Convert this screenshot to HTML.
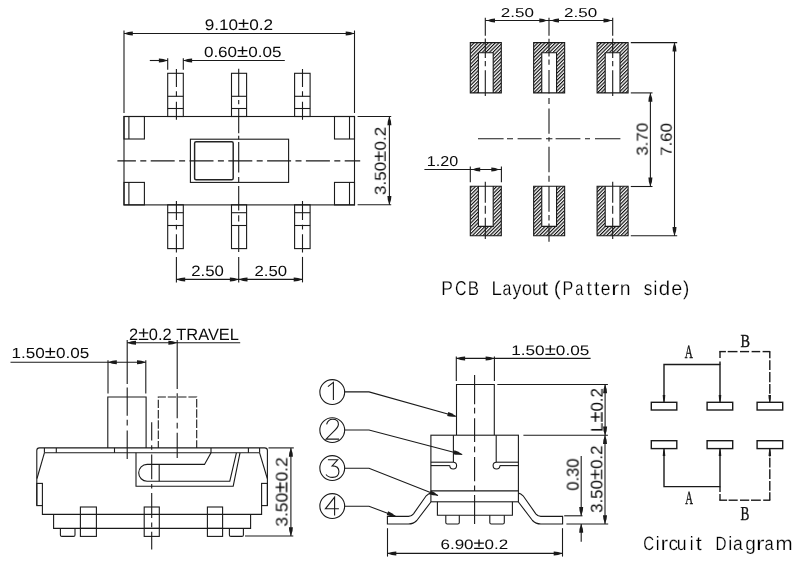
<!DOCTYPE html>
<html><head><meta charset="utf-8"><style>
html,body{margin:0;padding:0;background:#fff;}
svg{display:block;}
svg text{will-change:transform;text-rendering:geometricPrecision;}
svg line, svg path, svg rect, svg circle{fill:none;stroke:#1a1a1a;stroke-width:1.1;}
svg path.f{fill:#1a1a1a;stroke:none;}
svg path.h{fill:url(#hatch);}
svg .b{stroke-width:1.4;}
svg text{font-family:"Liberation Sans",sans-serif;fill:#0a0a0a;stroke:none;}
svg text.tl{stroke:#fff;stroke-width:0.2px;fill:#000;}
svg text.sf{font-family:"Liberation Serif",serif;fill:#111;stroke:#111;stroke-width:0.35px;}
</style></head><body>
<svg width="800" height="572" viewBox="0 0 800 572">
<defs><pattern id="hatch" patternUnits="userSpaceOnUse" width="2.5" height="2.5" patternTransform="rotate(45)"><rect width="2.5" height="2.5" style="fill:#fff;stroke:none"/><line x1="0.6" y1="-1" x2="0.6" y2="3.5" style="stroke:#000;stroke-width:1.1"/></pattern></defs>
<rect x="124" y="116.5" width="230.5" height="88.4" />
<rect x="124" y="116.5" width="20.4" height="22.5" />
<line x1="128.9" y1="116.5" x2="128.9" y2="139" />
<rect x="124" y="182.4" width="20.4" height="22.5" />
<line x1="128.9" y1="182.4" x2="128.9" y2="204.9" />
<rect x="334.5" y="116.5" width="20.0" height="22.5" />
<line x1="349.5" y1="116.5" x2="349.5" y2="139" />
<rect x="334.5" y="182.4" width="20.0" height="22.5" />
<line x1="349.5" y1="182.4" x2="349.5" y2="204.9" />
<rect x="190.4" y="139.2" width="98.2" height="43.2" />
<rect x="194.6" y="141.8" width="38.6" height="38" rx="1.5" style="stroke-width:1.45;stroke:#222"/>
<line x1="117.4" y1="160.9" x2="360.2" y2="160.9" stroke-dasharray="24 4.4 6 4.4" stroke-dashoffset="5.5"/>
<rect x="167.7" y="73.3" width="15.6" height="43.2" />
<line x1="167.7" y1="96.3" x2="183.3" y2="96.3" />
<line x1="167.7" y1="108.5" x2="183.3" y2="108.5" />
<rect x="167.7" y="204.8" width="15.6" height="43.8" />
<line x1="167.7" y1="212.7" x2="183.3" y2="212.7" />
<line x1="167.7" y1="225.5" x2="183.3" y2="225.5" />
<rect x="231.5" y="73.3" width="15.1" height="43.2" />
<line x1="231.5" y1="96.3" x2="246.6" y2="96.3" />
<line x1="231.5" y1="108.5" x2="246.6" y2="108.5" />
<rect x="231.5" y="204.8" width="15.1" height="43.8" />
<line x1="231.5" y1="212.7" x2="246.6" y2="212.7" />
<line x1="231.5" y1="225.5" x2="246.6" y2="225.5" />
<rect x="294.6" y="73.3" width="15.5" height="43.2" />
<line x1="294.6" y1="96.3" x2="310.1" y2="96.3" />
<line x1="294.6" y1="108.5" x2="310.1" y2="108.5" />
<rect x="294.6" y="204.8" width="15.5" height="43.8" />
<line x1="294.6" y1="212.7" x2="310.1" y2="212.7" />
<line x1="294.6" y1="225.5" x2="310.1" y2="225.5" />
<line x1="176.4" y1="68.9" x2="176.4" y2="119.7" stroke-dasharray="18 4.4 5.3 5.2 30" stroke-dashoffset="0"/>
<line x1="176.4" y1="201.1" x2="176.4" y2="252.6" stroke-dasharray="18.9 4.8 4.7 4.7 30" stroke-dashoffset="0"/>
<line x1="302.5" y1="68.9" x2="302.5" y2="119.7" stroke-dasharray="18 4.4 5.3 5.2 30" stroke-dashoffset="0"/>
<line x1="302.5" y1="201.1" x2="302.5" y2="252.6" stroke-dasharray="18.9 4.8 4.7 4.7 30" stroke-dashoffset="0"/>
<line x1="238.7" y1="68.8" x2="238.7" y2="252.3" stroke-dasharray="27.7 3.5 4.3 4.4 24.5 2.6 3.5 2.6 30.6 4.4 5.2 4 24.5 4.7 6.1 3.5 27.1 10" stroke-dashoffset="0"/>
<line x1="124" y1="30.5" x2="124" y2="113" />
<line x1="354.5" y1="30.5" x2="354.5" y2="113" />
<line x1="124" y1="33.5" x2="354.5" y2="33.5" />
<path class="f" d="M124.00,33.50 Q128.84,31.40 132.80,31.50 L132.80,35.50 Q128.84,35.60 124.00,33.50Z"/>
<path class="f" d="M354.50,33.50 Q349.66,35.60 345.70,35.50 L345.70,31.50 Q349.66,31.40 354.50,33.50Z"/>
<text class="t" x="204.70" y="29.70" font-size="15.30" textLength="68.42" lengthAdjust="spacingAndGlyphs">9.10<tspan font-size="118%">±</tspan>0.2</text>
<line x1="167.7" y1="58.3" x2="167.7" y2="69.7" />
<line x1="183.3" y1="58.3" x2="183.3" y2="69.7" />
<line x1="149.8" y1="60.5" x2="167.7" y2="60.5" />
<line x1="183.3" y1="60.5" x2="284.8" y2="60.5" />
<path class="f" d="M167.70,60.50 Q162.86,62.60 158.90,62.50 L158.90,58.50 Q162.86,58.40 167.70,60.50Z"/>
<path class="f" d="M183.30,60.50 Q188.14,58.40 192.10,58.50 L192.10,62.50 Q188.14,62.60 183.30,60.50Z"/>
<text class="t" x="203.90" y="57.20" font-size="14.80" textLength="77.52" lengthAdjust="spacingAndGlyphs">0.60<tspan font-size="118%">±</tspan>0.05</text>
<line x1="357.6" y1="116.5" x2="391.2" y2="116.5" />
<line x1="357.6" y1="204.8" x2="391.2" y2="204.8" />
<line x1="389.4" y1="116.5" x2="389.4" y2="204.8" />
<path class="f" d="M389.40,116.50 Q391.50,121.34 391.40,125.30 L387.40,125.30 Q387.30,121.34 389.40,116.50Z"/>
<path class="f" d="M389.40,204.80 Q387.30,199.96 387.40,196.00 L391.40,196.00 Q391.50,199.96 389.40,204.80Z"/>
<text class="t" x="0" y="0" font-size="15.78" textLength="68.21" lengthAdjust="spacingAndGlyphs" transform="translate(385.70,195.09) rotate(-90)">3.50<tspan font-size="118%">±</tspan>0.2</text>
<line x1="176.4" y1="256.9" x2="176.4" y2="282.4" />
<line x1="238.7" y1="256.9" x2="238.7" y2="282.4" />
<line x1="302.5" y1="256.9" x2="302.5" y2="282.4" />
<line x1="176.4" y1="279.4" x2="302.5" y2="279.4" />
<path class="f" d="M176.40,279.40 Q181.24,277.30 185.20,277.40 L185.20,281.40 Q181.24,281.50 176.40,279.40Z"/>
<path class="f" d="M238.70,279.40 Q233.86,281.50 229.90,281.40 L229.90,277.40 Q233.86,277.30 238.70,279.40Z"/>
<path class="f" d="M238.70,279.40 Q243.54,277.30 247.50,277.40 L247.50,281.40 Q243.54,281.50 238.70,279.40Z"/>
<path class="f" d="M302.50,279.40 Q297.66,281.50 293.70,281.40 L293.70,277.40 Q297.66,277.30 302.50,279.40Z"/>
<text class="t" x="191.15" y="275.90" font-size="14.97" textLength="32.73" lengthAdjust="spacingAndGlyphs">2.50</text>
<text class="t" x="254.45" y="275.90" font-size="14.72" textLength="32.59" lengthAdjust="spacingAndGlyphs">2.50</text>
<path class="h" d="M470.3,42.6 H501.3 V92.9 H470.3 Z M478.40000000000003,52.7 H493.2 V92.9 H478.40000000000003 Z" fill-rule="evenodd"/>
<path class="h" d="M470.3,186.2 H501.3 V235.8 H470.3 Z M478.40000000000003,186.2 H493.2 V226.4 H478.40000000000003 Z" fill-rule="evenodd"/>
<path class="h" d="M533.65,42.6 H564.65 V92.9 H533.65 Z M541.75,52.7 H556.55 V92.9 H541.75 Z" fill-rule="evenodd"/>
<path class="h" d="M533.65,186.2 H564.65 V235.8 H533.65 Z M541.75,186.2 H556.55 V226.4 H541.75 Z" fill-rule="evenodd"/>
<path class="h" d="M597.1,42.6 H628.1 V92.9 H597.1 Z M605.2,52.7 H620.0 V92.9 H605.2 Z" fill-rule="evenodd"/>
<path class="h" d="M597.1,186.2 H628.1 V235.8 H597.1 Z M605.2,186.2 H620.0 V226.4 H605.2 Z" fill-rule="evenodd"/>
<line x1="485.3" y1="38.5" x2="485.3" y2="96" stroke-dasharray="19.5 3 5.3 4 40" stroke-dashoffset="0"/>
<line x1="485.3" y1="181.8" x2="485.3" y2="239" stroke-dasharray="21 2.9 8.1 3.9 30" stroke-dashoffset="0"/>
<line x1="612.7" y1="38.5" x2="612.7" y2="96" stroke-dasharray="19.5 3 5.3 4 40" stroke-dashoffset="0"/>
<line x1="612.7" y1="181.8" x2="612.7" y2="239" stroke-dasharray="21 2.9 8.1 3.9 30" stroke-dashoffset="0"/>
<line x1="485.3" y1="17.7" x2="485.3" y2="35.8" />
<line x1="612.7" y1="17.7" x2="612.7" y2="35.8" />
<line x1="549" y1="17.7" x2="549" y2="35.8" />
<line x1="549" y1="38.8" x2="549" y2="241.8" stroke-dasharray="17.8 3 5.2 5.2 23.5 4.4 6.1 4.4 25.3 3.5 4.4 5.2 25.4 3.5 6.1 4.3 25.7 3.1 5.5 3.1 18.3 10" stroke-dashoffset="0"/>
<line x1="478" y1="138.8" x2="620.4" y2="138.8" stroke-dasharray="25.6 3.4 6 4.6 24 4.4 6.4 3.2 24.8 4.6 5 5 25.4 10" stroke-dashoffset="0"/>
<line x1="485.3" y1="20.5" x2="612.7" y2="20.5" />
<path class="f" d="M487.00,20.50 Q491.40,18.40 495.00,18.50 L495.00,22.50 Q491.40,22.60 487.00,20.50Z"/>
<path class="f" d="M547.30,20.50 Q542.90,22.60 539.30,22.50 L539.30,18.50 Q542.90,18.40 547.30,20.50Z"/>
<path class="f" d="M551.00,20.50 Q555.40,18.40 559.00,18.50 L559.00,22.50 Q555.40,22.60 551.00,20.50Z"/>
<path class="f" d="M611.50,20.50 Q607.10,22.60 603.50,22.50 L603.50,18.50 Q607.10,18.40 611.50,20.50Z"/>
<text class="t" x="500.72" y="17.00" font-size="12.86" textLength="33.14" lengthAdjust="spacingAndGlyphs">2.50</text>
<text class="t" x="564.13" y="17.00" font-size="12.86" textLength="33.13" lengthAdjust="spacingAndGlyphs">2.50</text>
<line x1="630.8" y1="42.6" x2="677.2" y2="42.6" />
<line x1="630.8" y1="92.9" x2="652.5" y2="92.9" />
<line x1="630.8" y1="186.5" x2="652.5" y2="186.5" />
<line x1="630.8" y1="235.8" x2="677.2" y2="235.8" />
<line x1="674.5" y1="42.6" x2="674.5" y2="235.8" />
<path class="f" d="M674.50,42.60 Q676.60,47.44 676.50,51.40 L672.50,51.40 Q672.40,47.44 674.50,42.60Z"/>
<path class="f" d="M674.50,235.80 Q672.40,230.96 672.50,227.00 L676.50,227.00 Q676.60,230.96 674.50,235.80Z"/>
<line x1="650.4" y1="92.9" x2="650.4" y2="186.5" />
<path class="f" d="M650.40,92.90 Q652.50,97.74 652.40,101.70 L648.40,101.70 Q648.30,97.74 650.40,92.90Z"/>
<path class="f" d="M650.40,186.30 Q648.30,181.46 648.40,177.50 L652.40,177.50 Q652.50,181.46 650.40,186.30Z"/>
<text class="t" x="0" y="0" font-size="15.70" textLength="32.82" lengthAdjust="spacingAndGlyphs" transform="translate(647.60,155.61) rotate(-90)">3.70</text>
<text class="t" x="0" y="0" font-size="15.72" textLength="32.92" lengthAdjust="spacingAndGlyphs" transform="translate(671.60,155.88) rotate(-90)">7.60</text>
<line x1="470.3" y1="166.5" x2="470.3" y2="182.2" />
<line x1="501.4" y1="166.5" x2="501.4" y2="182.2" />
<line x1="424.4" y1="169.5" x2="501.4" y2="169.5" />
<path class="f" d="M472.20,169.50 Q476.60,167.40 480.20,167.50 L480.20,171.50 Q476.60,171.60 472.20,169.50Z"/>
<path class="f" d="M499.30,169.50 Q494.90,171.60 491.30,171.50 L491.30,167.50 Q494.90,167.40 499.30,169.50Z"/>
<text class="t" x="426.89" y="165.70" font-size="14.30" textLength="31.42" lengthAdjust="spacingAndGlyphs">1.20</text>
<text class="t tl" font-size="20.06" transform="translate(441.37,295.40) scale(0.871,1)">P</text>
<text class="t tl" font-size="20.06" transform="translate(454.99,295.40) scale(0.795,1)">C</text>
<text class="t tl" font-size="20.06" transform="translate(467.71,295.40) scale(0.843,1)">B</text>
<text class="t tl" font-size="20.06" transform="translate(491.57,295.40) scale(0.927,1)">L</text>
<text class="t tl" font-size="20.06" transform="translate(502.42,295.40) scale(0.796,1)">a</text>
<text class="t tl" font-size="20.06" transform="translate(512.46,295.40) scale(0.885,1)">y</text>
<text class="t tl" font-size="20.06" transform="translate(521.72,295.40) scale(0.929,1)">o</text>
<text class="t tl" font-size="20.06" transform="translate(531.95,295.40) scale(0.880,1)">u</text>
<text class="t tl" font-size="20.06" transform="translate(541.53,295.40) scale(1.210,1)">t</text>
<text class="t tl" font-size="20.06" transform="translate(553.71,295.40) scale(1.034,1)">(</text>
<text class="t tl" font-size="20.06" transform="translate(562.57,295.40) scale(0.806,1)">P</text>
<text class="t tl" font-size="20.06" transform="translate(575.28,295.40) scale(0.728,1)">a</text>
<text class="t tl" font-size="20.06" transform="translate(586.46,295.40) scale(0.947,1)">t</text>
<text class="t tl" font-size="20.06" transform="translate(593.96,295.40) scale(0.947,1)">t</text>
<text class="t tl" font-size="20.06" transform="translate(600.86,295.40) scale(0.866,1)">e</text>
<text class="t tl" font-size="20.06" transform="translate(611.16,295.40) scale(1.197,1)">r</text>
<text class="t tl" font-size="20.06" transform="translate(619.71,295.40) scale(0.968,1)">n</text>
<text class="t tl" font-size="20.06" transform="translate(643.77,295.40) scale(0.858,1)">s</text>
<text class="t tl" font-size="20.06" transform="translate(653.61,295.40) scale(0.851,1)">i</text>
<text class="t tl" font-size="20.06" transform="translate(658.74,295.40) scale(1.020,1)">d</text>
<text class="t tl" font-size="20.06" transform="translate(671.36,295.40) scale(0.988,1)">e</text>
<text class="t tl" font-size="20.06" transform="translate(683.09,295.40) scale(0.940,1)">)</text>
<path d="M36.8,505.6 V450.6 Q36.8,447.9 39.5,447.9 H264.6 Q267.4,447.9 267.4,450.6 V505.6" />
<line x1="44.4" y1="452.8" x2="259.6" y2="452.8" />
<line x1="44.4" y1="447.9" x2="44.4" y2="452.8" />
<line x1="56.3" y1="447.9" x2="56.3" y2="452.8" />
<line x1="114.5" y1="447.9" x2="114.5" y2="452.8" />
<line x1="248.4" y1="447.9" x2="248.4" y2="452.8" />
<line x1="259.6" y1="447.9" x2="259.6" y2="452.8" />
<line x1="44.4" y1="452.8" x2="37" y2="478.5" />
<line x1="259.6" y1="452.8" x2="267.3" y2="478.5" />
<rect x="36.8" y="483.4" width="5.6" height="22.2" />
<rect x="261.6" y="483.4" width="5.8" height="22.2" />
<path d="M42.4,505.6 V514.4 H261.6 V505.6" />
<path d="M53.6,514.4 V528.4 H250.6 V514.4" />
<rect x="80.4" y="507" width="16.0" height="29.4" fill="#fff"/>
<line x1="80.4" y1="528.4" x2="96.4" y2="528.4" />
<rect x="144.2" y="507" width="15.1" height="29.4" fill="#fff"/>
<line x1="144.2" y1="528.4" x2="159.3" y2="528.4" />
<rect x="207.4" y="507" width="15.2" height="29.4" fill="#fff"/>
<line x1="207.4" y1="528.4" x2="222.6" y2="528.4" />
<path d="M60.4,528.4 V534.9 Q60.4,536.4 61.9,536.4 H73.5 Q75,536.4 75,534.9 V528.4" />
<path d="M229.4,528.4 V534.9 Q229.4,536.4 230.9,536.4 H241.9 Q243.4,536.4 243.4,534.9 V528.4" />
<path d="M136,452.8 V486.2 H233.2 L240,452.8" />
<path d="M211,447.9 V452.8 L204.5,464.4 H147.1 A8.4,8.4 0 0 0 147.1,481.2 H229.8 L236.4,452.8" />
<line x1="159.2" y1="464.4" x2="159.2" y2="481.2" />
<path d="M107.8,447.9 V397 H146.1 V447.9" />
<path d="M158.3,447.9 V397 H196.7 V447.9" stroke-dasharray="7 1.9 8.4 1.9 8.4 1.9 8.4 1.9 8.4 1.9 8.4 1.9 8.4 1.9 8.4 1.9 8.4 1.9 8.4 1.9 8.4 1.9 8.4 1.9 8.4 1.9 8.4 1.9 8.4 1.9"/>
<line x1="127.2" y1="340" x2="127.2" y2="458.9" stroke-dasharray="44.1 3.3 28.3 4.1 5.8 5 28.3 10" stroke-dashoffset="0"/>
<line x1="177.2" y1="340" x2="177.2" y2="389.1" />
<line x1="177.2" y1="393.3" x2="177.2" y2="458" stroke-dasharray="24.9 4.6 5.7 4.3 25.2 10" stroke-dashoffset="0"/>
<line x1="151.7" y1="422.2" x2="151.7" y2="549.5" stroke-dasharray="24.9 4.6 4.6 4.6" stroke-dashoffset="6.5"/>
<line x1="108" y1="360.2" x2="108" y2="393.4" />
<line x1="145.8" y1="360.2" x2="145.8" y2="393.4" />
<line x1="10.5" y1="362.2" x2="145.8" y2="362.2" />
<path class="f" d="M108.00,362.20 Q112.84,360.10 116.80,360.20 L116.80,364.20 Q112.84,364.30 108.00,362.20Z"/>
<path class="f" d="M145.80,362.20 Q140.96,364.30 137.00,364.20 L137.00,360.20 Q140.96,360.10 145.80,362.20Z"/>
<text class="t" x="11.57" y="358.20" font-size="14.57" textLength="77.61" lengthAdjust="spacingAndGlyphs">1.50<tspan font-size="118%">±</tspan>0.05</text>
<line x1="127.2" y1="342.7" x2="240.2" y2="342.7" />
<path class="f" d="M127.20,342.70 Q132.04,340.60 136.00,340.70 L136.00,344.70 Q132.04,344.80 127.20,342.70Z"/>
<path class="f" d="M177.20,342.70 Q172.36,344.80 168.40,344.70 L168.40,340.70 Q172.36,340.60 177.20,342.70Z"/>
<text class="t" x="129.10" y="340.10" font-size="16.41" textLength="109.88" lengthAdjust="spacingAndGlyphs">2<tspan font-size="118%">±</tspan>0.2&#160;TRAVEL</text>
<line x1="268.5" y1="447.9" x2="293.8" y2="447.9" />
<line x1="245" y1="536" x2="293.3" y2="536" />
<line x1="290.9" y1="447.9" x2="290.9" y2="536" />
<path class="f" d="M290.90,447.90 Q293.00,452.74 292.90,456.70 L288.90,456.70 Q288.80,452.74 290.90,447.90Z"/>
<path class="f" d="M290.90,536.00 Q288.80,531.16 288.90,527.20 L292.90,527.20 Q293.00,531.16 290.90,536.00Z"/>
<text class="t" x="0" y="0" font-size="16.62" textLength="69.38" lengthAdjust="spacingAndGlyphs" transform="translate(287.40,526.63) rotate(-90)">3.50<tspan font-size="118%">±</tspan>0.2</text>
<path d="M456.5,434.9 V384.5 H494.3 V434.9" />
<rect x="430.9" y="435.2" width="87.5" height="66.6" />
<line x1="453.4" y1="435.2" x2="453.4" y2="462.2" />
<line x1="496.2" y1="435.2" x2="496.2" y2="462.2" />
<line x1="430.9" y1="462.2" x2="453.2" y2="462.2" />
<line x1="430.9" y1="465.6" x2="449.8" y2="465.6" />
<line x1="496.2" y1="462.2" x2="518.4" y2="462.2" />
<line x1="499.9" y1="465.6" x2="518.4" y2="465.6" />
<path d="M449.8,465.6 A3.4,3.4 0 1 0 453.2,462.2" />
<path d="M499.9,465.6 A3.4,3.4 0 1 1 496.5,462.2" />
<line x1="430.9" y1="490.9" x2="518.4" y2="490.9" />
<path d="M437.4,501.8 V515.3 H512.4 V501.8" />
<path d="M445.8,515.3 V522.5 Q445.8,524 447.3,524 H457.8 Q459.3,524 459.3,522.5 V515.3" />
<path d="M489.8,515.3 V522.5 Q489.8,524 491.3,524 H502.8 Q504.3,524 504.3,522.5 V515.3" />
<path d="M430.9,493.1 Q428.5,493.6 426.2,495.8 L413.5,513.8 Q411.4,516.4 408.5,516.4 H387.4 V524 H408.5 Q413.5,524 416.8,520.5 L430.9,502" />
<path d="M518.4,493.1 Q520.8,493.6 523.1,495.8 L535.8,513.8 Q537.9,516.4 540.8,516.4 H562.6 V524 H540.8 Q535.8,524 532.5,520.5 L518.4,502" />
<line x1="474.6" y1="374.9" x2="474.6" y2="524.1" stroke-dasharray="29.4 3.5 5.6 4.9 23.7 4.6 5.7 4.7 24.2 4.4 5.5 3.9 30 10" stroke-dashoffset="0"/>
<line x1="456.3" y1="356.6" x2="456.3" y2="380.9" />
<line x1="494.4" y1="356.6" x2="494.4" y2="380.9" />
<line x1="456.3" y1="358.4" x2="590.6" y2="358.4" />
<path class="f" d="M456.30,358.40 Q461.14,356.30 465.10,356.40 L465.10,360.40 Q461.14,360.50 456.30,358.40Z"/>
<path class="f" d="M494.40,358.40 Q489.56,360.50 485.60,360.40 L485.60,356.40 Q489.56,356.30 494.40,358.40Z"/>
<text class="t" x="511.19" y="354.70" font-size="13.78" textLength="78.10" lengthAdjust="spacingAndGlyphs">1.50<tspan font-size="118%">±</tspan>0.05</text>
<line x1="497.3" y1="384.5" x2="607.9" y2="384.5" />
<line x1="523.4" y1="435.2" x2="607.9" y2="435.2" />
<line x1="605.1" y1="384.5" x2="605.1" y2="435.2" />
<path class="f" d="M605.10,384.50 Q607.20,389.34 607.10,393.30 L603.10,393.30 Q603.00,389.34 605.10,384.50Z"/>
<path class="f" d="M605.10,435.20 Q603.00,430.36 603.10,426.40 L607.10,426.40 Q607.20,430.36 605.10,435.20Z"/>
<text class="t" x="0" y="0" font-size="16.83" textLength="43.95" lengthAdjust="spacingAndGlyphs" transform="translate(602.60,431.98) rotate(-90)">L<tspan font-size="118%">±</tspan>0.2</text>
<line x1="605" y1="435.2" x2="605" y2="524" />
<path class="f" d="M605.00,435.20 Q607.10,440.04 607.00,444.00 L603.00,444.00 Q602.90,440.04 605.00,435.20Z"/>
<path class="f" d="M605.00,524.00 Q602.90,519.16 603.00,515.20 L607.00,515.20 Q607.10,519.16 605.00,524.00Z"/>
<text class="t" x="0" y="0" font-size="16.47" textLength="67.48" lengthAdjust="spacingAndGlyphs" transform="translate(602.30,512.87) rotate(-90)">3.50<tspan font-size="118%">±</tspan>0.2</text>
<line x1="564.2" y1="515.8" x2="582.5" y2="515.8" />
<line x1="566.4" y1="524" x2="608.2" y2="524" />
<line x1="581.2" y1="456.1" x2="581.2" y2="515.8" />
<path class="f" d="M581.20,515.80 Q579.10,510.96 579.20,507.00 L583.20,507.00 Q583.30,510.96 581.20,515.80Z"/>
<line x1="581.2" y1="524" x2="581.2" y2="541.8" />
<path class="f" d="M581.20,524.00 Q583.30,528.84 583.20,532.80 L579.20,532.80 Q579.10,528.84 581.20,524.00Z"/>
<text class="t" x="0" y="0" font-size="16.76" textLength="32.04" lengthAdjust="spacingAndGlyphs" transform="translate(578.50,490.64) rotate(-90)">0.30</text>
<line x1="387.5" y1="528.2" x2="387.5" y2="556.6" />
<line x1="562.5" y1="528.2" x2="562.5" y2="556.6" />
<line x1="387.5" y1="553.4" x2="562.5" y2="553.4" />
<path class="f" d="M387.50,553.40 Q392.34,551.30 396.30,551.40 L396.30,555.40 Q392.34,555.50 387.50,553.40Z"/>
<path class="f" d="M562.50,553.40 Q557.66,555.50 553.70,555.40 L553.70,551.40 Q557.66,551.30 562.50,553.40Z"/>
<text class="t" x="440.45" y="549.40" font-size="13.70" textLength="67.82" lengthAdjust="spacingAndGlyphs">6.90<tspan font-size="118%">±</tspan>0.2</text>
<circle cx="332.25" cy="392.05" r="12.4"/>
<circle cx="332.25" cy="430.1" r="12.4"/>
<circle cx="332.25" cy="468.05" r="12.4"/>
<circle cx="332.25" cy="506.05" r="12.4"/>
<path d="M344.6,391.9 H369 L455.8,416.2" />
<path class="f" d="M456.20,416.40 Q450.97,417.12 447.19,415.95 L448.26,412.10 Q452.11,413.07 456.20,416.40Z"/>
<path d="M344.6,430 H369 L462.2,454.5" />
<path class="f" d="M462.40,454.50 Q457.19,455.30 453.38,454.20 L454.40,450.33 Q458.25,451.24 462.40,454.50Z"/>
<path d="M344.6,468.3 H369 L438,495.5" />
<path class="f" d="M438.20,495.60 Q432.93,495.78 429.28,494.23 L430.75,490.51 Q434.47,491.87 438.20,495.60Z"/>
<path d="M344.6,506.2 H369 L395.5,516.2" />
<path class="f" d="M395.70,516.20 Q390.43,516.46 386.76,514.96 L388.17,511.22 Q391.91,512.53 395.70,516.20Z"/>
<path d="M327.9,386.6 L333.4,382.3 V400.1" stroke-width="0.9"/>
<path d="M326.6,424.4 Q328,419.3 332.6,419.3 Q338.6,419.3 338.4,424.6 Q338,427.6 333.5,431.6 L326,439.1 H339" stroke-width="0.9"/>
<path d="M327.9,459.8 H337.7 L332.1,465.9 Q338.9,465.9 338.9,471.6 Q338.9,477.4 332.5,477.4 Q328,477.4 326,474.5" stroke-width="0.9"/>
<path d="M334.6,515.5 V497.1 L325.4,508.8 H338.9" stroke-width="0.9"/>
<rect x="651.3" y="402.3" width="25.5" height="7.7" class="b"/>
<rect x="651.3" y="440.7" width="25.5" height="7.9" class="b"/>
<rect x="707.1" y="402.3" width="25.6" height="7.7" class="b"/>
<rect x="707.1" y="440.7" width="25.6" height="7.9" class="b"/>
<rect x="757.1" y="402.3" width="25.6" height="7.7" class="b"/>
<rect x="757.1" y="440.7" width="25.6" height="7.9" class="b"/>
<path d="M664,402 V364.5 H720 V402" class="b"/>
<path class="f" d="M664.00,402.30 Q662.63,398.23 662.70,394.90 L665.30,394.90 Q665.37,398.23 664.00,402.30Z"/>
<path class="f" d="M720.00,402.30 Q718.63,398.23 718.70,394.90 L721.30,394.90 Q721.37,398.23 720.00,402.30Z"/>
<line x1="720" y1="351.6" x2="720" y2="358" class="b"/>
<line x1="720" y1="361.5" x2="720" y2="364.5" class="b"/>
<line x1="719.3" y1="351.6" x2="725.9" y2="351.6" class="b"/>
<line x1="727.7" y1="351.6" x2="737.5" y2="351.6" class="b"/>
<line x1="740" y1="351.6" x2="749.1" y2="351.6" class="b"/>
<line x1="751.6" y1="351.6" x2="760.2" y2="351.6" class="b"/>
<line x1="762.6" y1="351.6" x2="770.3" y2="351.6" class="b"/>
<line x1="769.8" y1="351.6" x2="769.8" y2="358.3" class="b"/>
<line x1="769.8" y1="360.2" x2="769.8" y2="370" class="b"/>
<line x1="769.8" y1="372" x2="769.8" y2="382.2" class="b"/>
<line x1="769.8" y1="384" x2="769.8" y2="393.8" class="b"/>
<line x1="769.8" y1="395.6" x2="769.8" y2="402" class="b"/>
<path class="f" d="M769.70,402.30 Q768.34,398.23 768.40,394.90 L771.00,394.90 Q771.07,398.23 769.70,402.30Z"/>
<path d="M664,448.6 V486.6 H720 V448.6" class="b"/>
<path class="f" d="M664.00,448.60 Q665.37,452.67 665.30,456.00 L662.70,456.00 Q662.63,452.67 664.00,448.60Z"/>
<path class="f" d="M720.00,448.60 Q721.37,452.67 721.30,456.00 L718.70,456.00 Q718.63,452.67 720.00,448.60Z"/>
<line x1="720" y1="486.6" x2="720" y2="491.9" class="b"/>
<line x1="720" y1="494" x2="720" y2="500.2" class="b"/>
<line x1="719.3" y1="500.2" x2="727.1" y2="500.2" class="b"/>
<line x1="728.6" y1="500.2" x2="737.7" y2="500.2" class="b"/>
<line x1="740" y1="500.2" x2="749.2" y2="500.2" class="b"/>
<line x1="751" y1="500.2" x2="760.8" y2="500.2" class="b"/>
<line x1="763.2" y1="500.2" x2="770.3" y2="500.2" class="b"/>
<line x1="769.8" y1="500.2" x2="769.8" y2="492.3" class="b"/>
<line x1="769.8" y1="490.7" x2="769.8" y2="481" class="b"/>
<line x1="769.8" y1="479.1" x2="769.8" y2="469.3" class="b"/>
<line x1="769.8" y1="467.5" x2="769.8" y2="457.7" class="b"/>
<line x1="769.8" y1="456.5" x2="769.8" y2="448.6" class="b"/>
<path class="f" d="M769.80,448.60 Q771.16,452.67 771.10,456.00 L768.50,456.00 Q768.43,452.67 769.80,448.60Z"/>
<text class="sf" x="684.66" y="358.20" font-size="18.61" textLength="8.12" lengthAdjust="spacingAndGlyphs">A</text>
<text class="sf" x="740.43" y="347.30" font-size="18.40" textLength="9.54" lengthAdjust="spacingAndGlyphs">B</text>
<text class="sf" x="685.13" y="504.10" font-size="18.70" textLength="7.74" lengthAdjust="spacingAndGlyphs">A</text>
<text class="sf" x="740.55" y="519.50" font-size="19.78" textLength="8.87" lengthAdjust="spacingAndGlyphs">B</text>
<text class="t tl" font-size="19.33" transform="translate(643.24,549.90) scale(0.776,1)">C</text>
<text class="t tl" font-size="19.33" transform="translate(655.86,549.90) scale(0.883,1)">i</text>
<text class="t tl" font-size="19.33" transform="translate(660.46,549.90) scale(1.200,1)">r</text>
<text class="t tl" font-size="19.33" transform="translate(668.38,549.90) scale(0.996,1)">c</text>
<text class="t tl" font-size="19.33" transform="translate(676.85,549.90) scale(0.913,1)">u</text>
<text class="t tl" font-size="19.33" transform="translate(689.86,549.90) scale(0.883,1)">i</text>
<text class="t tl" font-size="19.33" transform="translate(695.67,549.90) scale(1.114,1)">t</text>
<text class="t tl" font-size="19.33" transform="translate(715.55,549.90) scale(0.786,1)">D</text>
<text class="t tl" font-size="19.33" transform="translate(728.28,549.90) scale(0.942,1)">i</text>
<text class="t tl" font-size="19.33" transform="translate(733.06,549.90) scale(0.906,1)">a</text>
<text class="t tl" font-size="19.33" transform="translate(745.21,549.90) scale(0.978,1)">g</text>
<text class="t tl" font-size="19.33" transform="translate(756.00,549.90) scale(1.324,1)">r</text>
<text class="t tl" font-size="19.33" transform="translate(764.40,549.90) scale(0.856,1)">a</text>
<text class="t tl" font-size="19.33" transform="translate(775.44,549.90) scale(1.063,1)">m</text>
</svg></body></html>
